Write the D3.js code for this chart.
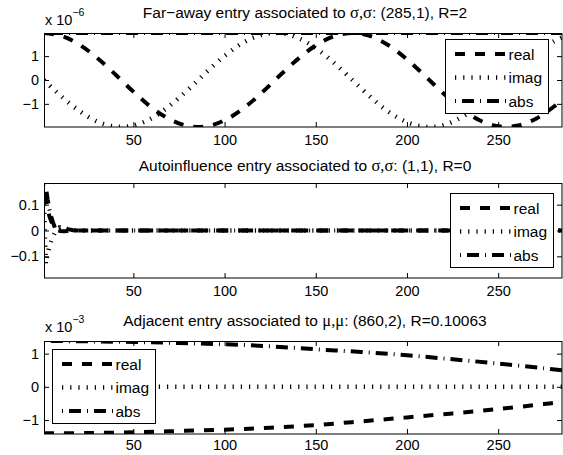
<!DOCTYPE html>
<html>
<head>
<meta charset="utf-8">
<script src="https://cdn.jsdelivr.net/npm/d3@7"></script>
<style>
  body { margin: 0; background: #fff; }
  svg text { font-family: "Liberation Sans", Arial, Helvetica, sans-serif; fill: #000; }
  .axis path { display: none; }
  .axis line { stroke: #000; stroke-width: 1; }
</style>
</head>
<body>
<svg id="fig" width="563" height="455"></svg>
<script>
// ---- data ----
// panel 1 : far-away entry (values x 1e-6)
var xTop    = [1, 11, 21, 31, 41, 51, 61, 71, 81, 91, 101, 111, 121, 131, 141, 151, 161, 171, 181, 191, 201, 211, 221, 231, 241, 251, 261, 271, 281, 285];
var realTop = [1.97, 1.84, 1.45, 0.87, 0.17, -0.56, -1.21, -1.69, -1.94, -1.93, -1.65, -1.15, -0.49, 0.24, 0.93, 1.50, 1.86, 1.97, 1.81, 1.40, 0.80, 0.09, -0.63, -1.26, -1.73, -1.95, -1.91, -1.61, -1.09, -0.83];
var imagTop = [0, -0.72, -1.33, -1.77, -1.96, -1.89, -1.56, -1.01, -0.33, 0.40, 1.07, 1.60, 1.91, 1.96, 1.74, 1.28, 0.65, -0.07, -0.78, -1.39, -1.80, -1.97, -1.87, -1.51, -0.95, -0.26, 0.47, 1.13, 1.64, 1.78];
var xAbsTop = [1, 285];
var absTop  = [1.97, 1.97];

// panel 2 : autoinfluence entry
var xMid    = [1, 2, 3, 4, 5, 6, 7, 8, 9, 10, 12, 14, 17, 20, 285];
var realMid = [0.14, 0.11, 0.08, 0.055, 0.035, 0.02, 0.008, 0.002, 0, -0.002, -0.003, -0.002, 0, 0, 0];
var imagMid = [0.10, -0.13, -0.09, -0.06, -0.04, -0.022, -0.008, 0.004, 0.01, 0.013, 0.01, 0.005, 0.001, 0, 0];
var absMid  = [0.172, 0.17, 0.12, 0.081, 0.053, 0.03, 0.011, 0.0045, 0.01, 0.013, 0.0104, 0.0054, 0.001, 0, 0];

// panel 3 : adjacent entry (values x 1e-3)
var xBot    = [1, 25, 50, 75, 100, 125, 150, 175, 200, 225, 250, 275, 285];
var realBot = [-1.40, -1.39, -1.37, -1.33, -1.29, -1.23, -1.15, -1.04, -0.92, -0.80, -0.67, -0.52, -0.46];
var imagBot = [0, 0, 0, 0, 0, 0, 0, 0, 0, 0, 0, 0, 0];
var absBot  = [1.38, 1.37, 1.35, 1.32, 1.28, 1.22, 1.13, 1.05, 0.95, 0.83, 0.70, 0.56, 0.50];

var xTicks = [50, 100, 150, 200, 250];
var yTicksTop = [-1, 0, 1];
var yTicksMid = [-0.1, 0, 0.1];
var yTicksBot = [-1, 0, 1];
var seriesNames = ["real", "imag", "abs"];

// ---- styles ----
var dashFor = { real: "10,10", imag: "1.2,7", abs: "1,6,12,6" };
var widthFor = { real: 4, imag: 4.5, abs: 4 };

var svg = d3.select("#fig");
var left = 44, right = 562;

function panel(opt) {
  var x = d3.scaleLinear().domain([1, 285]).range([left, right]);
  var y = d3.scaleLinear().domain(opt.ydom).range([opt.bottom, opt.top]);
  var g = svg.append("g");

  var clipId = "clip" + opt.id;
  svg.append("clipPath").attr("id", clipId)
    .append("rect").attr("x", left).attr("y", opt.top)
    .attr("width", right - left).attr("height", opt.bottom - opt.top);

  var lines = g.append("g").attr("clip-path", "url(#" + clipId + ")");
  opt.series.forEach(function (s) {
    var pts = s.x.map(function (d, i) { return [d, s.y[i]]; });
    var line = d3.line()
      .x(function (d) { return x(d[0]); })
      .y(function (d) { return y(d[1]); })
      .curve(opt.curve);
    lines.append("path")
      .attr("d", line(pts))
      .attr("fill", "none")
      .attr("stroke", "#000")
      .attr("stroke-width", widthFor[s.name])
      .attr("stroke-dasharray", dashFor[s.name]);
  });

  // axes, ticks pointing inwards
  g.append("g").attr("class", "axis")
    .attr("transform", "translate(0," + opt.bottom + ")")
    .call(d3.axisBottom(x).tickValues(xTicks).tickSizeInner(-5).tickSizeOuter(0).tickPadding(opt.xpad))
    .selectAll("text").style("font-size", "14.5px");
  g.append("g").attr("class", "axis")
    .attr("transform", "translate(0," + opt.top + ")")
    .call(d3.axisTop(x).tickValues(xTicks).tickSizeInner(-5).tickSizeOuter(0).tickFormat(""));
  g.append("g").attr("class", "axis")
    .attr("transform", "translate(" + left + ",0)")
    .call(d3.axisLeft(y).tickValues(opt.yticks).tickSizeInner(-5).tickSizeOuter(0).tickPadding(5)
      .tickFormat(function (d) { return d < 0 ? "\u2212" + Math.abs(d) : String(d); }))
    .selectAll("text").style("font-size", "14.5px");
  g.append("g").attr("class", "axis")
    .attr("transform", "translate(" + right + ",0)")
    .call(d3.axisRight(y).tickValues(opt.yticks).tickSizeInner(-5).tickSizeOuter(0).tickFormat(""));

  g.append("rect")
    .attr("x", left + 0.5).attr("y", opt.top + 0.5)
    .attr("width", right - left - 0.5).attr("height", opt.bottom - opt.top - 0.5)
    .attr("fill", "none").attr("stroke", "#000").attr("stroke-width", 1);

  // title
  var t = g.append("text")
    .attr("x", (left + right) / 2 + 2).attr("y", opt.titleY)
    .attr("text-anchor", "middle").style("font-size", "15.5px");
  opt.title.forEach(function (p) {
    var ts = t.append("tspan").text(p[0]);
    if (p[1]) ts.style("font-family", "'Liberation Serif', 'Times New Roman', serif").style("font-size", "16.5px");
  });

  // exponent
  if (opt.exp) {
    var e = g.append("text").attr("x", left + 1).attr("y", opt.expY).style("font-size", "14.5px");
    e.append("tspan").text("x 10");
    e.append("tspan").attr("dy", -9).style("font-size", "10.5px").text(opt.exp);
  }

  // legend
  var lg = g.append("g").attr("transform", "translate(" + opt.legend[0] + "," + opt.legend[1] + ")");
  lg.append("rect").attr("x", 0.5).attr("y", 0.5).attr("width", 103).attr("height", 74)
    .attr("fill", "#fff").attr("stroke", "#000").attr("stroke-width", 1);
  seriesNames.forEach(function (n, i) {
    var yy = 15 + i * 23.5;
    lg.append("line").attr("x1", 10).attr("x2", 61).attr("y1", yy).attr("y2", yy)
      .attr("stroke", "#000").attr("stroke-width", widthFor[n]).attr("stroke-dasharray", dashFor[n]);
    lg.append("text").attr("x", 63.5).attr("y", yy + 5.5).style("font-size", "15.5px").text(n);
  });
}

panel({
  id: 1, top: 33, bottom: 127, ydom: [-1.97, 1.97], yticks: yTicksTop, curve: d3.curveCatmullRom, xpad: 8,
  series: [
    { name: "real", x: xTop, y: realTop },
    { name: "imag", x: xTop, y: imagTop },
    { name: "abs", x: xAbsTop, y: absTop }
  ],
  titleY: 18, title: [["Far\u2212away entry associated to "], ["\u03c3,\u03c3", true], [": (285,1), R=2"]],
  exp: "\u22126", expY: 25, legend: [445, 39]
});

panel({
  id: 2, top: 183, bottom: 278, ydom: [-0.184, 0.184], yticks: yTicksMid, curve: d3.curveLinear, xpad: 8,
  series: [
    { name: "real", x: xMid, y: realMid },
    { name: "imag", x: xMid, y: imagMid },
    { name: "abs", x: xMid, y: absMid }
  ],
  titleY: 171, title: [["Autoinfluence entry associated to "], ["\u03c3,\u03c3", true], [": (1,1), R=0"]],
  legend: [450, 193]
});

panel({
  id: 3, top: 341, bottom: 434, ydom: [-1.42, 1.38], yticks: yTicksBot, curve: d3.curveCatmullRom, xpad: 6,
  series: [
    { name: "real", x: xBot, y: realBot },
    { name: "imag", x: xBot, y: imagBot },
    { name: "abs", x: xBot, y: absBot }
  ],
  titleY: 326, title: [["Adjacent entry associated to "], ["\u03bc,\u03bc", true], [": (860,2), R=0.10063"]],
  exp: "\u22123", expY: 332, legend: [52, 349]
});
</script>
</body>
</html>
